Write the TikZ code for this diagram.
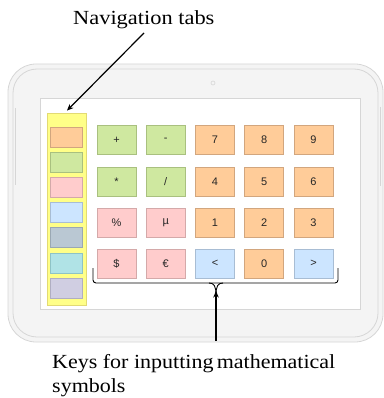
\documentclass[tikz,border=0pt]{standalone}
\usepackage{fontspec}
\setmainfont{Liberation Serif}
\newfontfamily\keyfont{Liberation Sans}
\usetikzlibrary{arrows.meta}
\definecolor{orf}{HTML}{FFCC99}\definecolor{ord}{HTML}{D2A67E}
\definecolor{grf}{HTML}{CFE8A0}\definecolor{grd}{HTML}{A9C07F}
\definecolor{pkf}{HTML}{FFCCCC}\definecolor{pkd}{HTML}{D4A9A9}
\definecolor{blf}{HTML}{CCE5FF}\definecolor{bld}{HTML}{A8BDD4}
\definecolor{gyf}{HTML}{BAC8D3}\definecolor{gyd}{HTML}{9AA8B3}
\definecolor{cyf}{HTML}{B0E3E6}\definecolor{cyd}{HTML}{8EC3C6}
\definecolor{lvf}{HTML}{D0CEE2}\definecolor{lvd}{HTML}{B0AEC2}
\definecolor{ylf}{HTML}{FFFF88}\definecolor{yld}{HTML}{E2DA74}
\definecolor{tabfill}{HTML}{F4F4F4}\definecolor{tabline}{HTML}{D6D6D6}
\definecolor{keytext}{HTML}{262626}
\newcommand{\slashkey}{/}
\tikzset{
  keybox/.style={draw=#1d, fill=#1f, line width=0.8pt, minimum width=39pt, minimum height=29pt,
    inner sep=0pt, font=\keyfont\fontsize{11}{12}\selectfont, text=keytext},
  tabbox/.style={draw=#1d, fill=#1f, line width=0.8pt, minimum width=32pt, minimum height=20pt, inner sep=0pt},
  callout/.style={line width=1.2pt, -{Stealth[length=6.5pt,width=5.5pt]}},
  labeltext/.style={inner sep=0pt, anchor=base west, font=\fontsize{20}{24}\selectfont}
}
\begin{document}
\begin{tikzpicture}[x=1pt,y=-1pt]
\useasboundingbox (0,0) rectangle (383,398);
% tablet body
\draw[tabline, fill=tabfill, line width=0.8pt, rounded corners=28pt] (8,64) rectangle (383,342);
\draw[tabline, line width=0.8pt, rounded corners=24pt] (13,69) rectangle (378,337);
\draw[tabline, line width=0.8pt] (15,108) -- (15,185);
\draw[tabline, line width=0.8pt] (380.5,107) -- (380.5,186);
\draw[tabline, line width=0.6pt] (213,83) circle (2pt);
% screen
\node[draw=tabline, fill=white, line width=0.8pt, minimum width=320pt, minimum height=211pt, inner sep=0pt] (screen) at (200,203.5) {};
% navigation column
\node[draw=yld, fill=ylf, line width=0.8pt, minimum width=39pt, minimum height=192pt, inner sep=0pt] (navcol) at (66.5,209) {};
\foreach \c [count=\i] in {or,gr,pk,bl,gy,cy,lv} {
  \node[tabbox=\c] (tab\i) at (66,{137+25.2*(\i-1)}) {};
}
% keys
\foreach \c/\t [count=\i] in {gr/+,gr/-,or/7,or/8,or/9} \node[keybox=\c] (k1\i) at ({116.5+49.25*(\i-1)},140) {\t};
\foreach \c/\t [count=\i] in {gr/*,gr/\slashkey,or/4,or/5,or/6} \node[keybox=\c] (k2\i) at ({116.5+49.25*(\i-1)},181.5) {\t};
\foreach \c/\t [count=\i] in {pk/\%,pk/µ,or/1,or/2,or/3} \node[keybox=\c] (k3\i) at ({116.5+49.25*(\i-1)},222.5) {\t};
\foreach \c/\t [count=\i] in {pk/\$,pk/€,bl/<,or/0,bl/>} \node[keybox=\c] (k4\i) at ({116.5+49.25*(\i-1)},263.5) {\t};
% brace
\draw[line width=0.9pt, rounded corners=3pt] (93,268) -- (93,283) -- (338,283) -- (338,268);
\coordinate (bracetip) at (216,295);
\draw[line width=0.9pt] (209,283) .. controls (214,283) and (216,286) .. (bracetip);
\draw[line width=0.9pt] (223,283) .. controls (218,283) and (216,286) .. (bracetip);
% labels
\node[labeltext] (navlabel) at (73,25) {\scalebox{1.12}[1]{Navigation tabs}};
\node[labeltext] (keyslabel) at (52,368) {\scalebox{1.1}[1]{Keys for inputting\hspace{-2pt} mathematical}};
\node[labeltext] (keyslabel2) at (52,392) {\scalebox{1.1}[1]{symbols}};
% callouts
\coordinate (navstart) at (144,33);
\coordinate (keystart) at (216,341);
\draw[callout] (navstart) -- ([xshift=0.5pt,yshift=2pt]navcol.north);
\draw[callout] (keystart) -- ([yshift=4pt]bracetip);
\end{tikzpicture}
\end{document}
